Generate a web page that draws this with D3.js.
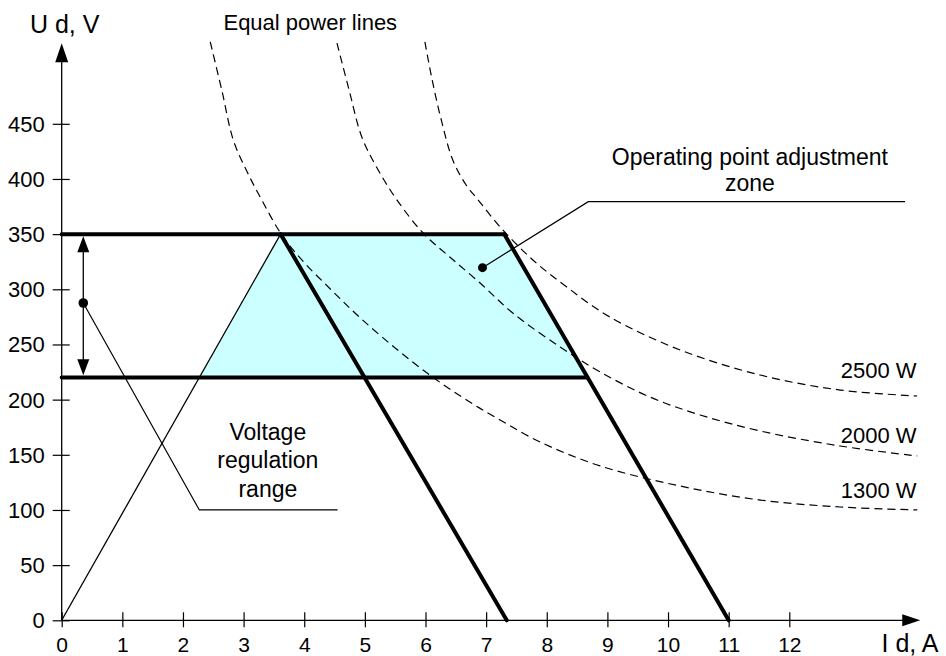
<!DOCTYPE html>
<html><head><meta charset="utf-8">
<script src="https://cdn.jsdelivr.net/npm/d3@7"></script>
<style>
body{margin:0;background:#fff}
svg{display:block}
text{font-family:"Liberation Sans",Arial,Helvetica,sans-serif;fill:#000}
</style>
</head><body>
<svg id="c" width="946" height="656"></svg>
<script>
// ---- data ----
const xTicks = [0,1,2,3,4,5,6,7,8,9,10,11,12];
const yTicks = [0,50,100,150,200,250,300,350,400,450];
const xTitle = "I d, A";
const yTitle = "U d, V";

// regulation limits (V)
const uMax = 350, uMin = 220;
// characteristic lines (I, V)
const rampI = [0, 3.61], rampV = [0, 350];
const loadLowI = [3.61, 7.34], loadLowV = [350, 0];
const loadHighI = [7.3, 11.0], loadHighV = [350, 0];
// operating zone polygon
const zoneI = [2.27, 3.61, 7.3, 8.67];
const zoneV = [220, 350, 350, 220];
// horizontal limits
const limitEndI = [7.3, 8.67];

// equal power curves
const powerLabels = ["1300 W", "2000 W", "2500 W"];
const p1300I = [2.45,2.64,2.83,3.06,3.30,3.62,3.96,4.43,4.89,5.50,6.07,6.65,7.23,7.89,8.88,10.20,11.52,12.84,14.11];
const p1300V = [524.2,480.6,435.3,406.3,380.9,350.1,326.6,300.3,275.8,246.8,222.3,200.6,181.5,161.6,139.9,121.7,109.0,102.7,100.0];
const p2000I = [4.54,4.74,4.95,5.22,5.53,5.96,6.40,6.90,7.44,8.22,8.88,9.70,10.53,11.52,12.84,14.11];
const p2000V = [523.2,480.6,438.0,408.1,380.9,351.0,329.3,305.7,278.5,247.7,225.1,202.4,186.1,171.6,158.0,148.9];
const p2500I = [5.99,6.11,6.26,6.45,6.67,6.87,7.23,7.77,8.33,9.04,10.20,11.52,12.84,14.11];
const p2500V = [524.2,489.7,453.5,417.2,394.5,380.9,356.5,326.6,302.1,274.9,245.0,222.3,208.7,203.3];
const powerLabelI = [14.1, 14.1, 14.1];
const powerLabelV = [111.1, 160.7, 219.6];

// annotations
const equalTitle = "Equal power lines";
const equalTitlePos = [4.1, 535];
const zoneText = ["Operating point adjustment", "zone"];
const zoneTextPos = [11.35, 413, 389];
const zoneDot = [6.94, 319.6];
const zoneLeader = [[6.94,319.6],[8.685,379.4],[13.91,379.4]];
const rangeText = ["Voltage", "regulation", "range"];
const rangeTextPos = [3.40, 163, 138, 112];
const rangeArrowI = 0.356;
const rangeDot = [0.356, 287.6];
const rangeLeader = [[0.356,287.6],[2.27,100],[4.55,100]];
const axisEnd = [14.16, 523];

// ---- drawing ----
const svg = d3.select("#c");
const x = d3.scaleLinear().domain([0,12]).range([61.7, 789.3]);
const y = d3.scaleLinear().domain([0,450]).range([620.3, 123.8]);
const FS = 21;     // tick labels
const FA = 23;     // annotations
const FP = 22;     // power labels / title

// zone fill
svg.append("path")
  .attr("d", d3.line().x(d=>x(d[0])).y(d=>y(d[1]))(zoneI.map((v,i)=>[v,zoneV[i]])) + "Z")
  .attr("fill", "#ccffff").attr("stroke", "none");

// equal power curves
const curveGen = d3.line().x(d=>x(d[0])).y(d=>y(d[1])).curve(d3.curveCatmullRom.alpha(0.5));
[[p1300I,p1300V],[p2000I,p2000V],[p2500I,p2500V]].forEach(([I,V])=>{
  svg.append("path").attr("d", curveGen(I.map((v,i)=>[v,V[i]])))
    .attr("fill","none").attr("stroke","#000").attr("stroke-width",1.2)
    .attr("stroke-dasharray","8,5");
});
powerLabels.forEach((t,i)=>{
  svg.append("text").attr("x", x(powerLabelI[i])).attr("y", y(powerLabelV[i]))
    .attr("text-anchor","end").attr("font-size",FP).text(t);
});

// axes
const xAxis = svg.append("g").attr("transform",`translate(0,${y(0)})`)
  .call(d3.axisBottom(x).tickValues(xTicks).tickSize(7).tickFormat(d3.format("d")));
xAxis.select(".domain").remove();
xAxis.selectAll(".tick line").attr("y1",-8).attr("stroke","#000").attr("stroke-width",1.2);
xAxis.selectAll(".tick text").attr("y",31.7).attr("dy",null).attr("font-size",FS)
  .attr("font-family",null).style("fill","#000");

const yAxis = svg.append("g").attr("transform",`translate(${x(0)},0)`)
  .call(d3.axisLeft(y).tickValues(yTicks).tickSize(9).tickPadding(8).tickFormat(d3.format("d")));
yAxis.select(".domain").remove();
yAxis.selectAll(".tick line").attr("x1",8).attr("stroke","#000").attr("stroke-width",1.2);
yAxis.selectAll(".tick text").attr("font-size",FP).attr("font-family",null).attr("dy","0.34em").style("fill","#000");

// axis lines with arrows
svg.append("line").attr("x1",x(0)).attr("y1",y(0)).attr("x2",x(0)).attr("y2",y(axisEnd[1])+18)
  .attr("stroke","#000").attr("stroke-width",1.3);
svg.append("path").attr("d",`M${x(0)},${y(axisEnd[1])} l-6.5,19 l13,0 Z`).attr("fill","#000");
svg.append("line").attr("x1",x(0)).attr("y1",y(0)).attr("x2",x(axisEnd[0])-17).attr("y2",y(0))
  .attr("stroke","#000").attr("stroke-width",1.3);
svg.append("path").attr("d",`M${x(axisEnd[0])},${y(0)} l-18,-6 l0,12 Z`).attr("fill","#000");

svg.append("text").attr("x",x(0)+3).attr("y",33).attr("text-anchor","middle").attr("font-size",25).text(yTitle);
svg.append("text").attr("x",881.5).attr("y",651.5).attr("font-size",25).text(xTitle);

// thin ramp line
svg.append("line").attr("x1",x(rampI[0])).attr("y1",y(rampV[0])).attr("x2",x(rampI[1])).attr("y2",y(rampV[1]))
  .attr("stroke","#000").attr("stroke-width",1.3);

// thick lines
const thick = (x1,y1,x2,y2)=>svg.append("line").attr("x1",x1).attr("y1",y1).attr("x2",x2).attr("y2",y2)
  .attr("stroke","#000").attr("stroke-width",4).attr("stroke-linecap","round");
thick(x(0),y(uMax),x(limitEndI[0]),y(uMax));
thick(x(0),y(uMin),x(limitEndI[1]),y(uMin));
thick(x(loadLowI[0]),y(loadLowV[0]),x(loadLowI[1]),y(loadLowV[1]));
thick(x(loadHighI[0]),y(loadHighV[0]),x(loadHighI[1]),y(loadHighV[1]));

// voltage range double arrow
const ax = x(rangeArrowI);
svg.append("line").attr("x1",ax).attr("x2",ax).attr("y1",y(uMax)+14).attr("y2",y(uMin)-14)
  .attr("stroke","#000").attr("stroke-width",1.3);
svg.append("path").attr("d",`M${ax},${y(uMax)+2.2} l-6,16 l12,0 Z`).attr("fill","#000");
svg.append("path").attr("d",`M${ax},${y(uMin)-2.2} l-6,-16 l12,0 Z`).attr("fill","#000");

// leaders
const lg = d3.line().x(d=>x(d[0])).y(d=>y(d[1]));
svg.append("path").attr("d",lg(rangeLeader)).attr("fill","none").attr("stroke","#000").attr("stroke-width",1.2);
svg.append("circle").attr("cx",x(rangeDot[0])).attr("cy",y(rangeDot[1])).attr("r",4.8).attr("fill","#000");
svg.append("path").attr("d",lg(zoneLeader)).attr("fill","none").attr("stroke","#000").attr("stroke-width",1.2);
svg.append("circle").attr("cx",x(zoneDot[0])).attr("cy",y(zoneDot[1])).attr("r",4.5).attr("fill","#000");

// texts
svg.append("text").attr("x",x(equalTitlePos[0])).attr("y",y(equalTitlePos[1])).attr("text-anchor","middle")
  .attr("font-size",FP).text(equalTitle);
zoneText.forEach((t,i)=>svg.append("text").attr("x",x(zoneTextPos[0])).attr("y",y(zoneTextPos[1+i]))
  .attr("text-anchor","middle").attr("font-size",FA).text(t));
rangeText.forEach((t,i)=>svg.append("text").attr("x",x(rangeTextPos[0])).attr("y",y(rangeTextPos[1+i]))
  .attr("text-anchor","middle").attr("font-size",FA).text(t));
</script>
</body></html>
